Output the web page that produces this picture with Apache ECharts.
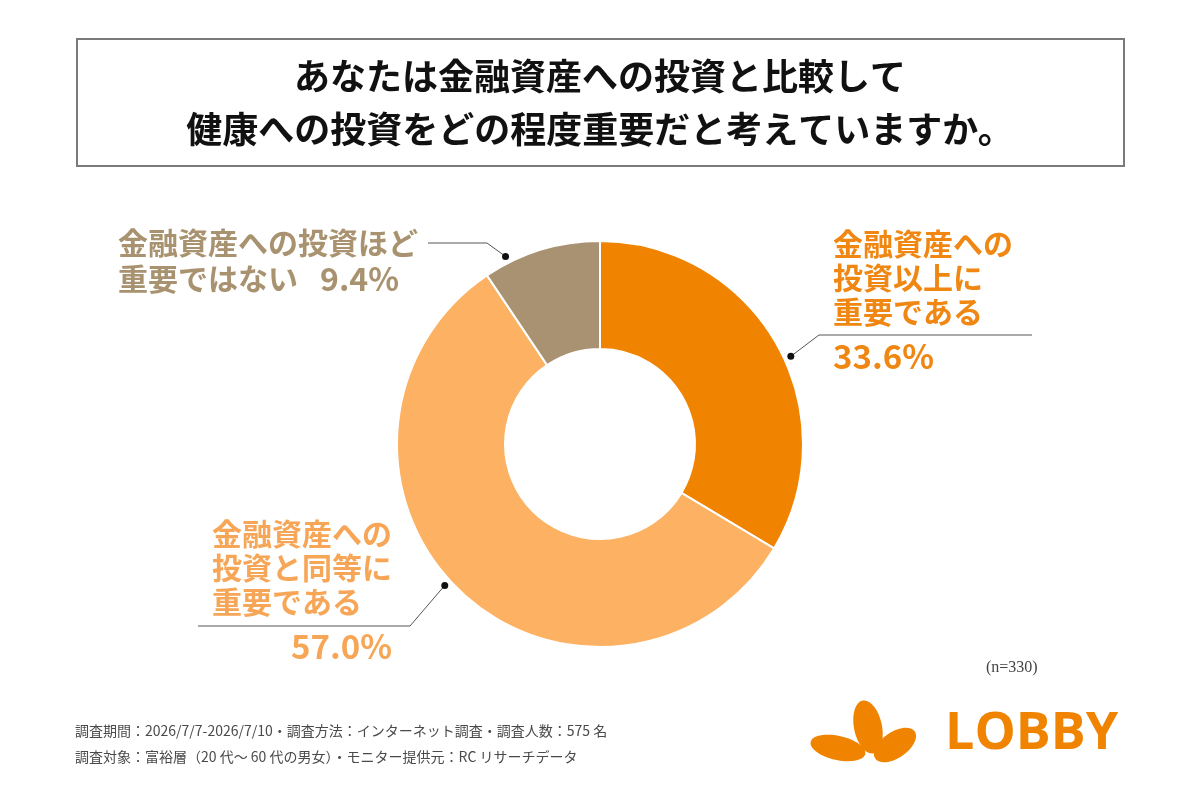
<!DOCTYPE html>
<html>
<head>
<meta charset="utf-8">
<script src="https://cdn.jsdelivr.net/npm/echarts@6/dist/echarts.min.js"></script>
<style>
html,body{margin:0;padding:0;background:#fff}
#chart{width:1200px;height:800px}
</style>
</head>
<body>
<div id="chart"></div>
<script>
// data
var categories = ['金融資産への投資以上に重要である', '金融資産への投資と同等に重要である', '金融資産への投資ほど重要ではない'];
var labelTexts = [['金融資産への', '投資以上に', '重要である'], ['金融資産への', '投資と同等に', '重要である'], ['金融資産への投資ほど', '重要ではない']];
var values = [33.6, 57.0, 9.4];
var sampleNote = '(n=330)';
var footerLines = [
    '調査期間：2026/7/7-2026/7/10・調査方法：インターネット調査・調査人数：575 名',
    '調査対象：富裕層（20 代～ 60 代の男女）・モニター提供元：RC リサーチデータ'
];
var titleText = 'あなたは金融資産への投資と比較して\n健康への投資をどの程度重要だと考えていますか。';

// look
var colors = ['#F08300', '#FDB163', '#A89271'];
var textColors = ['#EF8712', '#F6A656', '#A8926F'];
var JP = '"Noto Sans CJK JP", "Noto Sans", sans-serif';

var CX = 600, CY = 444, R_IN = 95, R_OUT = 203, R_DOT = 210;
// where the leader dot sits across each slice (0..1)
var anchorFrac = [0.54, 0.52, 0.21];
var elbows = [[819, 335], [410, 626], [487, 243]];
var lineEnds = [[1032, 335], [198, 626], [428, 243]];
var labelPos = [[833, 227], [212, 517], [118, 225]];

var total = values.reduce(function (a, b) { return a + b; }, 0);
var anchors = [];
var acc = 0;
values.forEach(function (v, i) {
    var a = (acc + v * anchorFrac[i]) / total * 2 * Math.PI;
    acc += v;
    anchors.push([CX + R_DOT * Math.sin(a), CY - R_DOT * Math.cos(a)]);
});

var myChart = echarts.init(document.getElementById('chart'));

var rich = {};
textColors.forEach(function (c, i) {
    rich['n' + i] = {color: c, fontSize: 30, fontWeight: 'bold', fontFamily: JP, lineHeight: i === 2 ? 36 : 34};
    rich['p' + i] = {color: c, fontSize: 33, fontWeight: 'bold', fontFamily: JP, lineHeight: 40, padding: [14, 0, 0, 0], align: i === 1 ? 'right' : 'left'};
});
rich.p2 = {color: textColors[2], fontSize: 32, fontWeight: 'bold', fontFamily: JP, lineHeight: 36, padding: [0, 0, 0, 22]};

var option = {
    backgroundColor: '#fff',
    color: colors,
    title: {
        text: titleText,
        left: 'center',
        top: 50,
        padding: 0,
        textStyle: {fontSize: 36, fontWeight: 'bold', lineHeight: 53, color: '#111', fontFamily: JP, align: 'center'}
    },
    graphic: [
        {type: 'rect', shape: {x: 77, y: 39, width: 1047, height: 127}, style: {fill: 'none', stroke: '#7a7a7a', lineWidth: 2}},
        {type: 'circle', shape: {cx: anchors[0][0], cy: anchors[0][1], r: 3.5}, style: {fill: '#111'}, z: 10},
        {type: 'circle', shape: {cx: anchors[1][0], cy: anchors[1][1], r: 3.5}, style: {fill: '#111'}, z: 10},
        {type: 'circle', shape: {cx: anchors[2][0], cy: anchors[2][1], r: 3.5}, style: {fill: '#111'}, z: 10},
        {type: 'text', x: 986, y: 668, style: {text: sampleNote, fontSize: 16, fill: '#444', fontFamily: '"Liberation Serif", serif', verticalAlign: 'middle'}},
        {type: 'text', x: 75, y: 731, style: {text: footerLines[0], fontSize: 14, fill: '#4a4a4a', fontFamily: JP, verticalAlign: 'middle'}},
        {type: 'text', x: 75, y: 757, style: {text: footerLines[1], fontSize: 14, fill: '#4a4a4a', fontFamily: JP, verticalAlign: 'middle'}},
        // LOBBY logo
        {type: 'ellipse', shape: {cx: 0, cy: 0, rx: 28, ry: 12}, x: 838, y: 748, rotation: -0.22, style: {fill: '#F08300'}},
        {type: 'ellipse', shape: {cx: 0, cy: 0, rx: 14, ry: 27}, x: 868, y: 727, rotation: 0.2, style: {fill: '#F08300'}},
        {type: 'ellipse', shape: {cx: 0, cy: 0, rx: 24, ry: 13}, x: 895, y: 745, rotation: 0.6, style: {fill: '#F08300'}},
        {type: 'text', x: 945, y: 734, style: {text: 'LOBBY', fontSize: 52, fontWeight: 'bold', fill: '#F08300', fontFamily: '"Open Sans", sans-serif', verticalAlign: 'middle'}}
    ],
    series: [
        {
            type: 'pie',
            center: [CX, CY],
            radius: [R_IN, R_OUT],
            startAngle: 90,
            clockwise: true,
            avoidLabelOverlap: false,
            silent: true,
            itemStyle: {borderColor: '#fff', borderWidth: 2},
            label: {
                show: true,
                formatter: function (p) {
                    var i = p.dataIndex;
                    var pct = values[i].toFixed(1) + '%';
                    var t = labelTexts[i];
                    if (i === 2) {
                        return '{n2|' + t[0] + '}\n{n2|' + t[1] + '}{p2|' + pct + '}';
                    }
                    return t.map(function (s) { return '{n' + i + '|' + s + '}'; }).join('\n') + '\n{p' + i + '|' + pct + '}';
                },
                rich: rich
            },
            labelLine: {show: true, lineStyle: {color: '#555', width: 1}},
            labelLayout: function (params) {
                var i = params.dataIndex;
                return {
                    x: labelPos[i][0],
                    y: labelPos[i][1],
                    align: 'left',
                    verticalAlign: 'top',
                    labelLinePoints: [anchors[i], elbows[i], lineEnds[i]]
                };
            },
            data: values.map(function (v, i) {
                return {value: v, name: categories[i]};
            })
        }
    ]
};
myChart.setOption(option);
</script>
</body>
</html>
